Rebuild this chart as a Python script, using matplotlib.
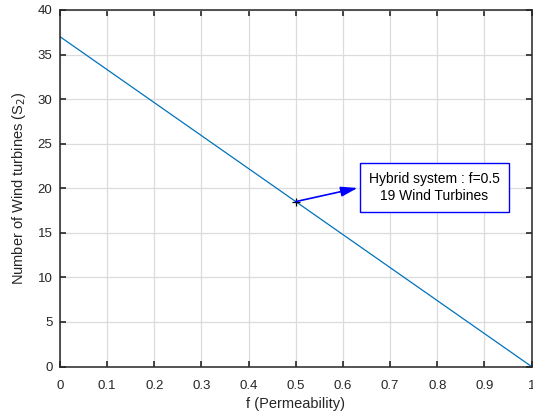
import numpy as np
import matplotlib
matplotlib.use("Agg")
import matplotlib.pyplot as plt

plt.rcParams['font.family'] = ['Liberation Sans', 'DejaVu Sans']

# donnees
permeabilite = [0.0, 1.0]
eoliennes = [37.0, 0.0]
point_f = 0.5
point_s2 = 18.5
xticks = [0, 0.1, 0.2, 0.3, 0.4, 0.5, 0.6, 0.7, 0.8, 0.9, 1]
xtick_labels = ['0', '0.1', '0.2', '0.3', '0.4', '0.5', '0.6', '0.7', '0.8', '0.9', '1']
yticks = [0, 5, 10, 15, 20, 25, 30, 35, 40]
texte_box = "Hybrid system : f=0.5\n19 Wind Turbines"

fig = plt.figure(figsize=(5.33, 4.18), dpi=100)
ax = fig.add_axes([0.1126, 0.1232, 0.8846, 0.853])

ax.plot(permeabilite, eoliennes, color='#0072BD', lw=0.9)
ax.plot([point_f], [point_s2], marker='+', color='black', ms=6, mew=0.9)

ax.set_xlim(0, 1)
ax.set_ylim(0, 40)
ax.set_xticks(xticks)
ax.set_xticklabels(xtick_labels)
ax.set_yticks(yticks)
ax.grid(True, color='#dcdcdc', lw=0.9)
ax.set_axisbelow(True)
ax.tick_params(direction='in', length=4.5, width=1.2, labelsize=9.5, colors='#262626', top=True, right=True)
ax.tick_params(axis='x', pad=9.5)
ax.tick_params(axis='y', pad=5.5)
for sp in ax.spines.values():
    sp.set_linewidth(1.1)
    sp.set_color('#262626')

ax.set_xlabel('f (Permeability)', fontsize=10.5, color='#262626', labelpad=4)
ax.set_ylabel('Number of Wind turbines (S$_2$)', fontsize=10.5, color='#262626', labelpad=7)

# boite d'annotation
ax.text(0.794, 20.09, texte_box, ha='center', va='center', fontsize=10,
        linespacing=1.2,
        bbox=dict(boxstyle='square,pad=0.66', fc='white', ec='blue', lw=1.0))
ax.annotate('', xy=(0.631, 20.03), xytext=(point_f, point_s2),
            arrowprops=dict(arrowstyle='-|>,head_length=1.0,head_width=0.3',
                            color='blue', lw=1.2, shrinkA=0, shrinkB=0))

fig.savefig('out.png', dpi=100)
